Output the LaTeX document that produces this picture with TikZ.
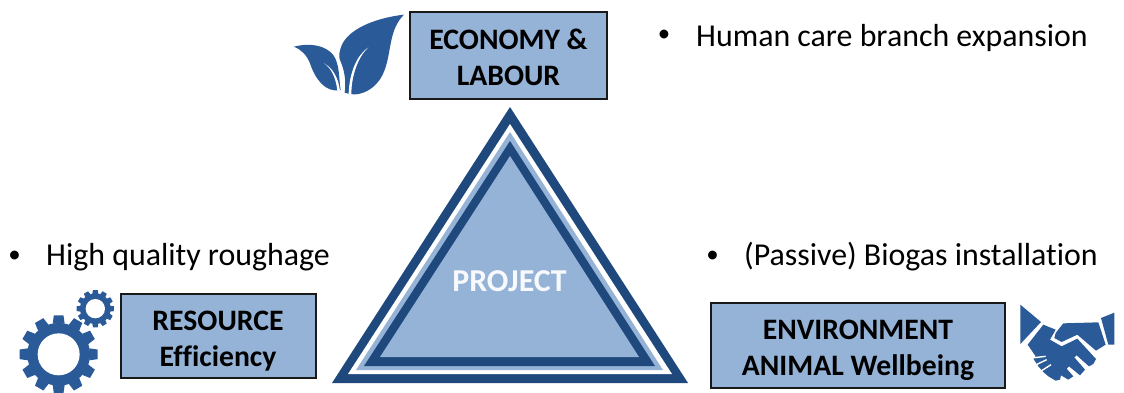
\documentclass[tikz,border=0pt]{standalone}
\usepackage{fontspec}
\setmainfont[Ligatures=NoCommon]{Carlito}
\definecolor{boxblue}{HTML}{95B3D7}
\definecolor{darkblue}{HTML}{1F497D}
\definecolor{iconblue}{HTML}{2A5A97}
\tikzset{
  labelbox/.style={draw=black!90,line width=2bp,fill=boxblue,inner sep=0pt},
  boxtext/.style={inner sep=0pt,align=center,font=\fontsize{29.8}{36}\selectfont\bfseries,text=black},
  bullettext/.style={anchor=base west,inner sep=0pt,font=\fontsize{32}{38}\selectfont,text=black},
  bulletmark/.style={anchor=base,inner sep=0pt,font=\fontsize{25}{30}\selectfont,text=black},
  gap/.style={draw=white,line width=1.4bp}
}
\newcommand{\gearicon}[5]{% cx,cy,outer,body,hole
  \fill[iconblue] (#1,#2) circle ({#4});
  \foreach \a in {0,30,...,330}{
    \fill[iconblue,shift={(#1,#2)},rotate=\a] ({#4-2},{-#5}) -- ({#3},{-#5*0.8}) -- ({#3},{#5*0.8}) -- ({#4-2},{#5}) -- cycle;
  }
}
\begin{document}
\begin{tikzpicture}[x=1bp,y=-1bp]
\useasboundingbox (0,0) rectangle (1124,392);
% triangle
\fill[darkblue] (510,107) -- (688,383) -- (332,383) -- cycle;
\fill[white] (510,124) -- (672,374) -- (348,374) -- cycle;
\fill[boxblue] (510,132) -- (663,370) -- (356,370) -- cycle;
\fill[darkblue] (510,141) -- (655,366) -- (364,366) -- cycle;
\fill[boxblue] (510,156) -- (639,357) -- (380,357) -- cycle;
\node[inner sep=0pt,text=white!92!boxblue,font=\fontsize{32}{36}\selectfont\bfseries] (project) at (509.5,281.5) {PROJECT};
% boxes
\node[labelbox,minimum width=197bp,minimum height=87bp] (economy) at (508.5,55) {};
\node[boxtext] (economytext) at ([yshift=-2bp]economy.center) {ECONOMY \&\\LABOUR};
\node[labelbox,minimum width=195bp,minimum height=84bp] (resource) at (218,336) {};
\node[boxtext] (resourcetext) at ([yshift=-5bp]resource.center) {RESOURCE\\Efficiency};
\node[labelbox,minimum width=294bp,minimum height=85bp] (environment) at (858,345) {};
\node[boxtext] (environmenttext) at ([yshift=-5bp]environment.center) {ENVIRONMENT\\ANIMAL Wellbeing};
% bullets
\node[bulletmark] (b1) at (664,41.5) {•};
\node[bullettext] (t1) at (696,46) {Human care branch expansion};
\node[bulletmark] (b2) at (14.5,262.5) {•};
\node[bullettext] (t2) at (46,265) {High quality roughage};
\node[bulletmark] (b3) at (712.5,262.5) {•};
\node[bullettext] (t3) at (744,265) {(Passive) Biogas installation};
% leaves
\begin{scope}[shift={(280,0)},x=0.3333bp,y=-0.3333bp]
\fill[iconblue] (372,44) .. controls (300,52) and (215,80) .. (188,130) .. controls (176,155) and (176,170) .. (180,180)
  .. controls (196,215) and (198,250) .. (194,278) .. controls (235,295) and (290,270) .. (312,215)
  .. controls (335,160) and (325,90) .. (372,44) -- cycle;
\fill[iconblue] (42,140) .. controls (90,128) and (135,135) .. (160,165) .. controls (180,195) and (176,235) .. (182,270)
  .. controls (135,280) and (105,235) .. (90,190) .. controls (80,165) and (65,150) .. (42,140) -- cycle;
\fill[white] (265,142) .. controls (232,165) and (208,215) .. (206,282) -- (214,284) .. controls (214,225) and (235,170) .. (265,142) -- cycle;
\fill[white] (132,190) .. controls (155,205) and (168,235) .. (172,272) -- (180,272) .. controls (175,235) and (160,205) .. (132,190) -- cycle;
\end{scope}
% gears
\begin{scope}[shift={(0,280)},x=0.3333bp,y=-0.3333bp]
\gearicon{176}{223}{117}{94}{18}
\fill[white] (176,223) circle (63);
\gearicon{286}{86}{56}{46}{9}
\fill[white] (286,86) circle (29);
\end{scope}
% handshake
\begin{scope}[shift={(1015,298)},x=0.3333bp,y=-0.3333bp]
\fill[iconblue] (16,20) -- (78,72) -- (16,138) -- cycle;
\fill[iconblue] (258,60) -- (298,44) -- (298,140) -- (280,140) -- cycle;
\fill[iconblue] (122,105) -- (145,76) -- (250,73) -- (272,140) -- (243,158) -- (187,110) -- (140,132) -- (118,120) -- cycle;
\fill[iconblue] (85,80) -- (122,95) -- (105,125) -- (140,145) -- (187,122) -- (243,183) -- (235,198) -- (222,205) -- (185,172) -- (178,178) -- (210,215) -- (195,232) -- (162,205) -- (155,212) -- (175,235) -- (160,245) -- (138,232) -- (135,245) -- (122,248) -- (100,235) -- (85,222) -- (70,205) -- (55,182) -- (62,175) -- (38,140) -- cycle;
\draw[gap] (50,180) -- (92,175);
\draw[gap] (66,199) -- (95,185);
\draw[gap] (80,218) -- (108,200);
\end{scope}
\end{tikzpicture}
\end{document}
